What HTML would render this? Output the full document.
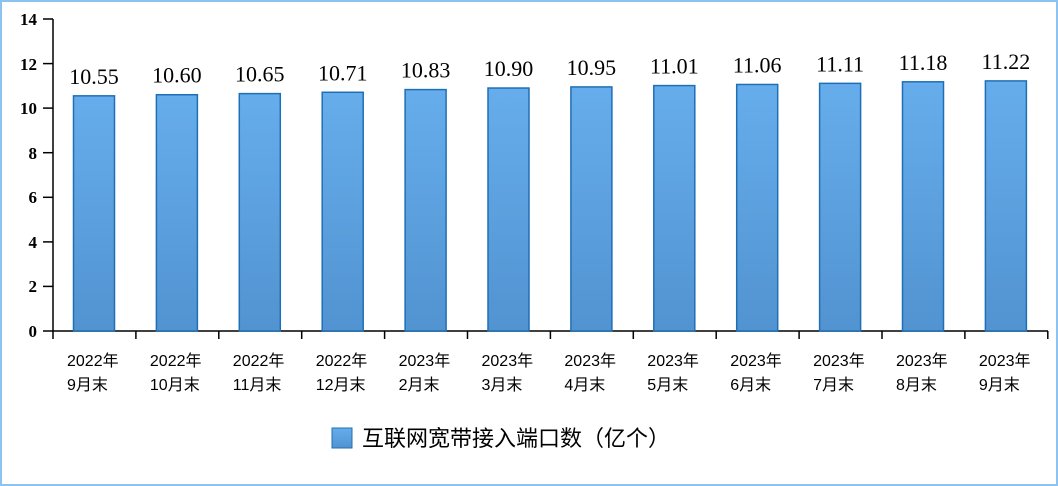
<!DOCTYPE html>
<html><head><meta charset="utf-8"><style>
body{margin:0;background:#fff}
svg{display:block}
</style></head><body>
<svg width="1058" height="486" xmlns="http://www.w3.org/2000/svg">
<defs><linearGradient id="g" x1="0" y1="0" x2="0" y2="1"><stop offset="0" stop-color="#66adec"/><stop offset="1" stop-color="#5293d1"/></linearGradient></defs>
<rect x="1" y="1" width="1056" height="484" fill="#fff" stroke="#8cc3f0" stroke-width="2"/>
<g font-family="Liberation Serif, serif" font-weight="bold" font-size="17" text-anchor="end" fill="#000">
<text x="37" y="337">0</text><text x="37" y="292">2</text><text x="37" y="248">4</text><text x="37" y="203">6</text><text x="37" y="159">8</text><text x="37" y="114">10</text><text x="37" y="70">12</text><text x="37" y="25">14</text>
</g>
<g stroke="#000" stroke-width="1.5">
<line x1="53" y1="19" x2="53" y2="331"/><line x1="53" y1="331" x2="1048" y2="331"/>
<line x1="43" y1="331" x2="53" y2="331"/><line x1="43" y1="286.4" x2="53" y2="286.4"/><line x1="43" y1="241.9" x2="53" y2="241.9"/><line x1="43" y1="197.3" x2="53" y2="197.3"/><line x1="43" y1="152.7" x2="53" y2="152.7"/><line x1="43" y1="108.1" x2="53" y2="108.1"/><line x1="43" y1="63.6" x2="53" y2="63.6"/><line x1="43" y1="19" x2="53" y2="19"/>
</g>
<g id="bars"></g>
</svg>
<script>
var v=[10.55,10.60,10.65,10.71,10.83,10.90,10.95,11.01,11.06,11.11,11.18,11.22];
var l=[["2022年","9月末"],["2022年","10月末"],["2022年","11月末"],["2022年","12月末"],["2023年","2月末"],["2023年","3月末"],["2023年","4月末"],["2023年","5月末"],["2023年","6月末"],["2023年","7月末"],["2023年","8月末"],["2023年","9月末"]];
var s='';
for(var i=0;i<12;i++){var x0=53+i*82.9,bx=x0+20.5,h=v[i]*22.29,y=331-h;
s+='<rect x="'+bx+'" y="'+y+'" width="41" height="'+h+'" fill="url(#g)" stroke="#1f6fb6" stroke-width="1.5"/>';
s+='<text x="'+(bx+20.5)+'" y="'+(y-12)+'" font-family="Liberation Serif, serif" font-size="22" text-anchor="middle">'+v[i].toFixed(2)+'</text>';
s+='<line x1="'+(x0+82.9)+'" y1="331" x2="'+(x0+82.9)+'" y2="339" stroke="#000" stroke-width="1.5"/>';
s+='<text x="'+(x0+14)+'" y="366" font-family="Liberation Sans, Noto Sans CJK SC, sans-serif" font-size="16">'+l[i][0]+'</text>';
s+='<text x="'+(x0+14)+'" y="390" font-family="Liberation Sans, Noto Sans CJK SC, sans-serif" font-size="16">'+l[i][1]+'</text>';}
s+='<line x1="53" y1="331" x2="53" y2="339" stroke="#000" stroke-width="1.5"/>';
s+='<rect x="332" y="428" width="20" height="20" fill="url(#g)" stroke="#1f6fb6"/>';
s+='<text x="362" y="446" font-family="Liberation Sans, Noto Sans CJK SC, sans-serif" font-size="22">互联网宽带接入端口数（亿个）</text>';
document.getElementById('bars').innerHTML=s;
</script>
</body></html>
